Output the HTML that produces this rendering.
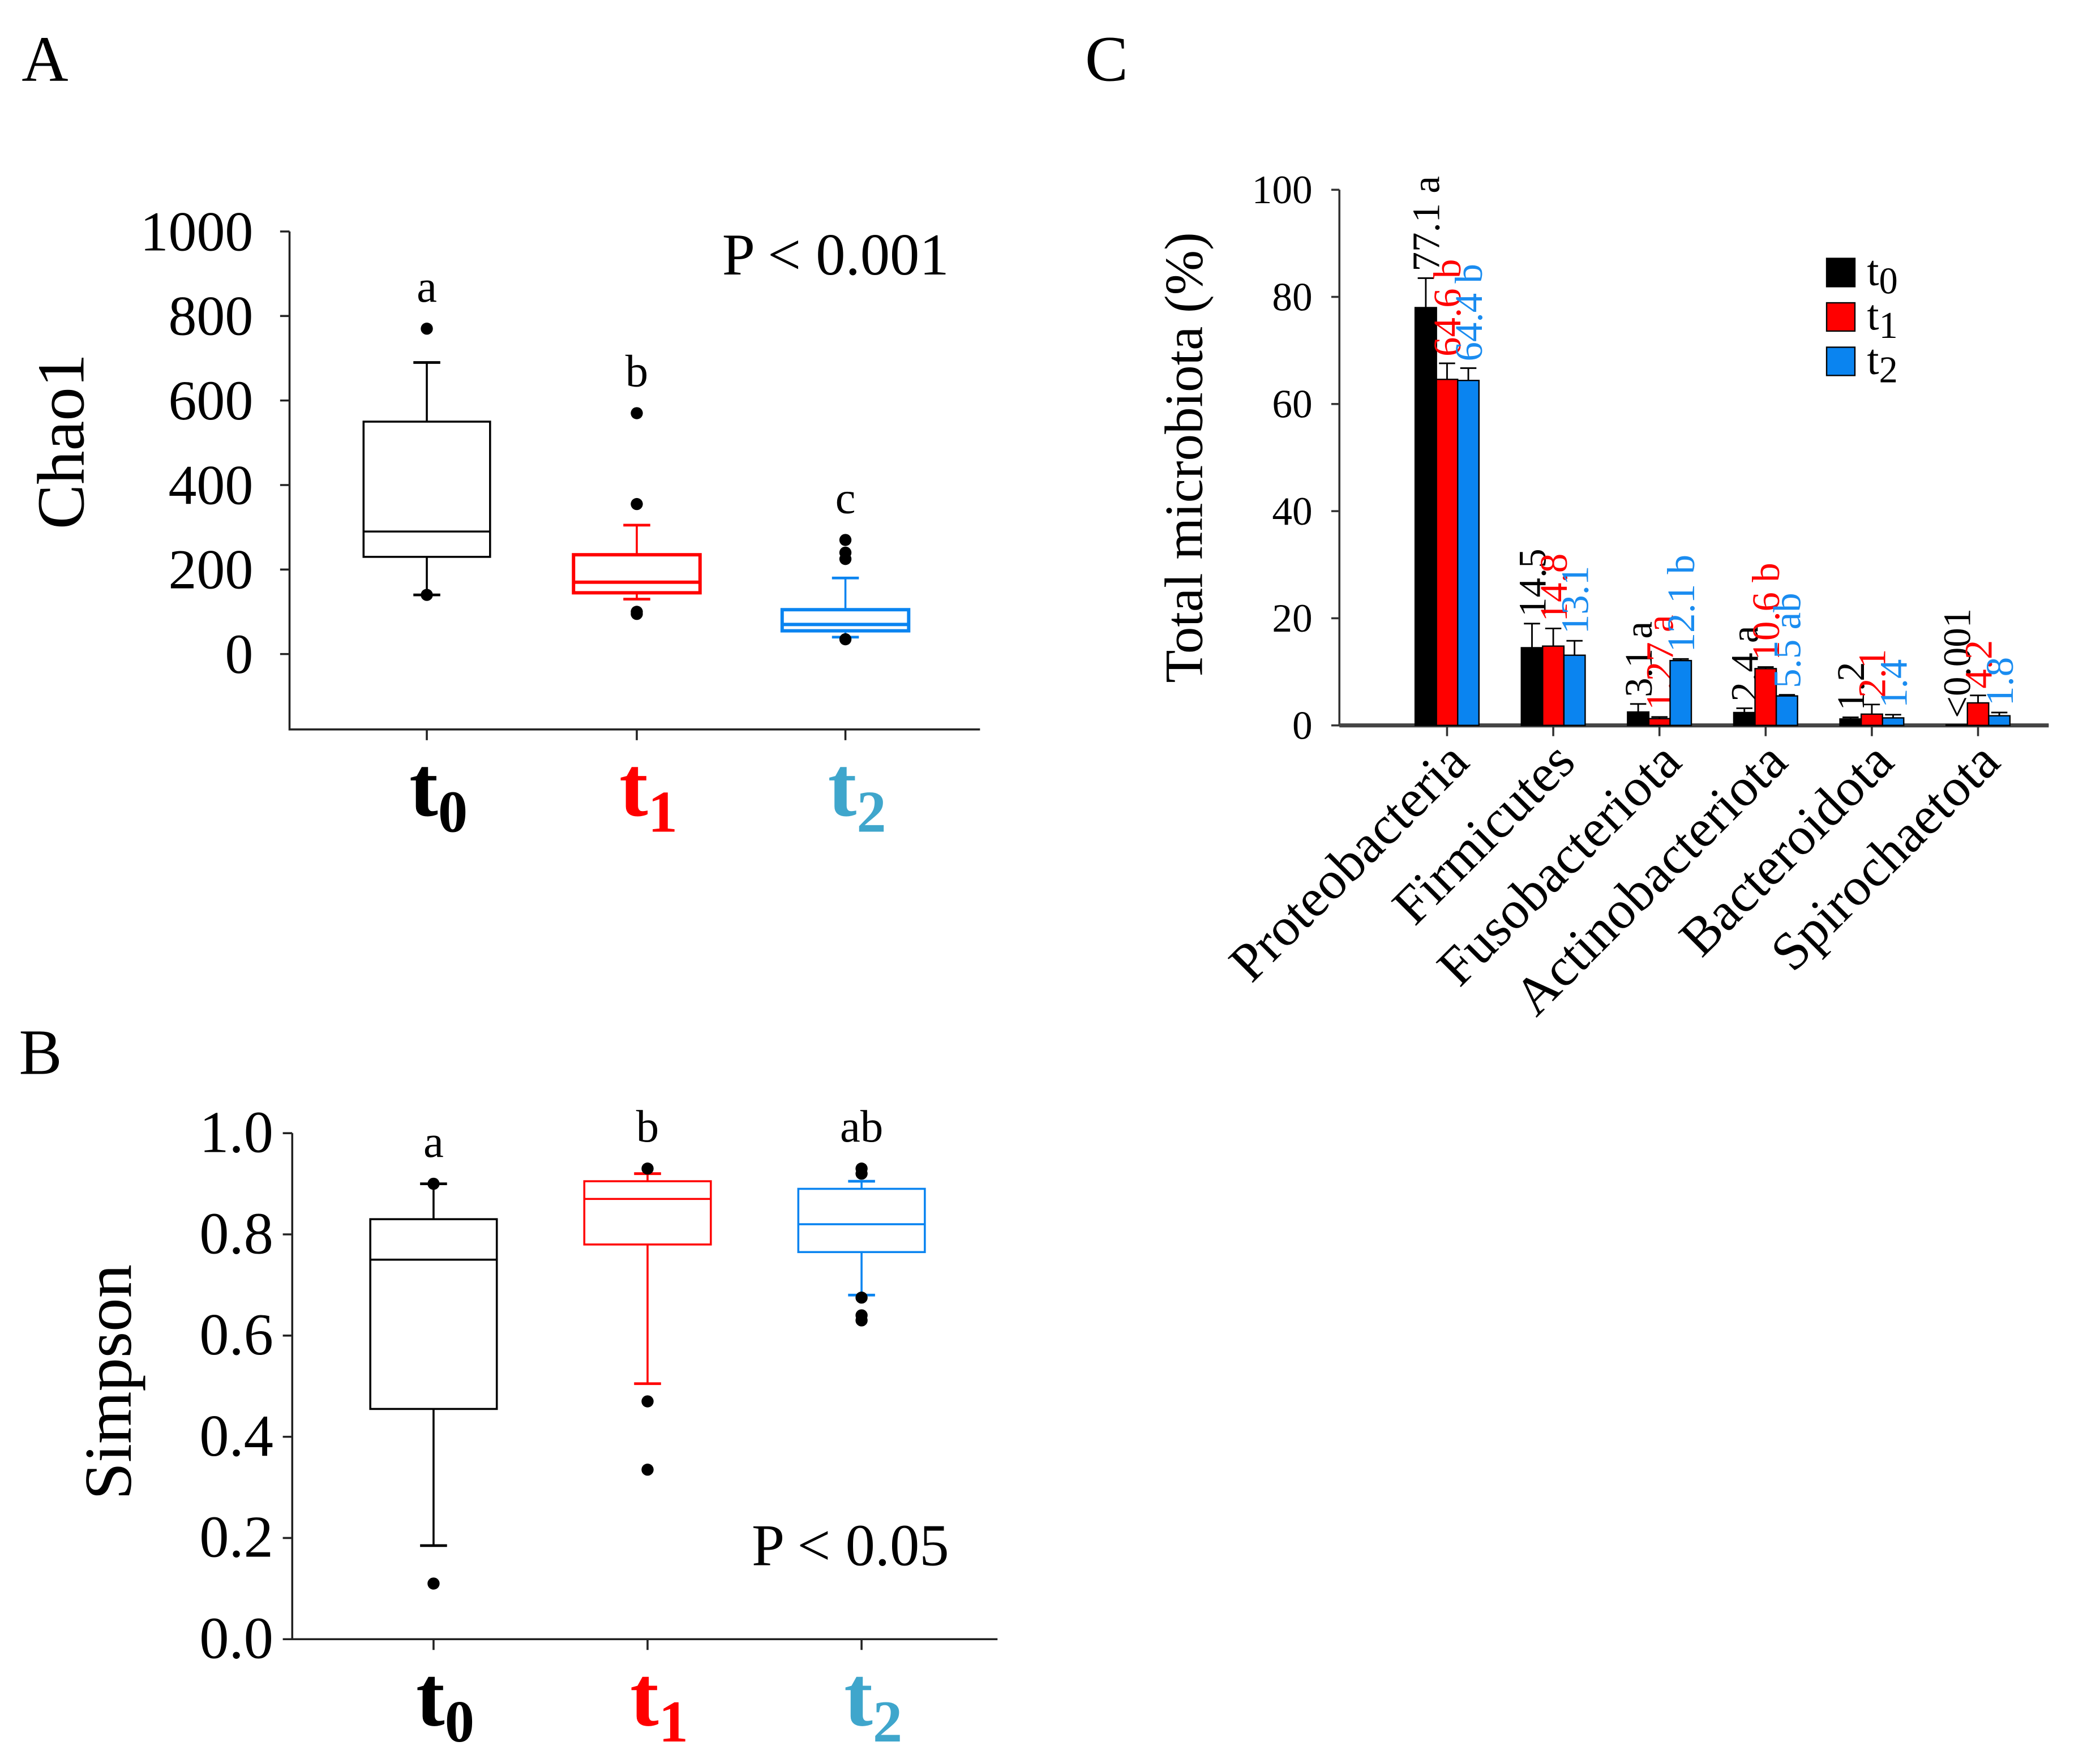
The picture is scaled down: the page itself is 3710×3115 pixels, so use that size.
<!DOCTYPE html>
<html><head><meta charset="utf-8"><style>
html,body{margin:0;padding:0;background:#fff}
svg{display:block}
text{font-family:"Liberation Serif",serif}
</style></head><body>
<svg id="fig" width="3710" height="3115" viewBox="0 0 1560 1310" xmlns="http://www.w3.org/2000/svg">
<text x="16" y="60" font-size="48">A</text>
<text x="14" y="798" font-size="48">B</text>
<text x="806" y="60" font-size="48">C</text>
<g id="pa"></g>
<g id="pb"></g>
<g id="pc"></g>
</svg>
<script>
// ---- Panel A data (Chao1)
const groups = ["t0","t1","t2"];
const chaoQ1 = [230,145,55];
const chaoMed = [290,170,70];
const chaoQ3 = [550,235,105];
const chaoLo = [140,130,40];
const chaoHi = [690,305,180];
const chaoOut = [[770,140],[570,355,100,95],[270,240,225,35]];
const chaoLetters = ["a","b","c"];
const chaoTicks = [0,200,400,600,800,1000];
// ---- Panel B data (Simpson)
const simQ1 = [0.455,0.78,0.765];
const simMed = [0.75,0.87,0.82];
const simQ3 = [0.83,0.905,0.89];
const simLo = [0.185,0.505,0.68];
const simHi = [0.90,0.92,0.905];
const simOut = [[0.11,0.9],[0.47,0.335,0.93],[0.93,0.92,0.675,0.64,0.63]];
const simLetters = ["a","b","ab"];
const simTicks = ["0.0","0.2","0.4","0.6","0.8","1.0"];
// ---- Panel C data
const phyla = ["Proteobacteria","Firmicutes","Fusobacteriota","Actinobacteriota","Bacteroidota","Spirochaetota"];
const valT0 = [78,14.5,2.5,2.4,1.2,0.1];
const valT1 = [64.6,14.8,1.27,10.6,2.1,4.2];
const valT2 = [64.4,13.1,12.1,5.5,1.4,1.8];
const errT0 = [5.5,4.5,1.5,0.8,0.3,0];
const errT1 = [3,3.3,0.3,0.3,1.8,1.4];
const errT2 = [2.3,2.7,0.3,0.2,0.6,0.6];
const lblT0 = ["77.1 a","14.5","3.1 a","2.4 a","1.2","<0.001"];
const lblT1 = ["64.6 b","14.8","1.27 a","10.6 b","2.1","4.2"];
const lblT2 = ["64.4 b","13.1","12.1 b","5.5 ab","1.4","1.8"];
const cTicks = [0,20,40,60,80,100];

const NS="http://www.w3.org/2000/svg";
function mk(parent,tag,attrs,txt){const e=document.createElementNS(NS,tag);for(const k in attrs)e.setAttribute(k,attrs[k]);if(txt!==undefined)e.textContent=txt;parent.appendChild(e);return e;}
const lineCol=["#000","#ff0000","#0a84f0"];
const labCol=["#000","#ff0000","#3fa6cc"];
const subs=["0","1","2"];

function boxPanel(g,cfg){
  const y=v=>cfg.y0+(v-cfg.v0)*(cfg.y1-cfg.y0)/(cfg.v1-cfg.v0);
  const ax=mk(g,'path',{d:`M${cfg.ax},${cfg.top}V${cfg.bot}H${cfg.right}`,stroke:'#222',fill:'none','stroke-width':1.5});
  
  
  cfg.ticks.forEach(t=>{
    const v=parseFloat(t);
    mk(g,'line',{x1:cfg.ax-7,x2:cfg.ax,y1:y(v),y2:y(v),stroke:'#222','stroke-width':1.5});
    const tx=mk(g,'text',{x:cfg.tlx,y:y(v)+14,'font-size':cfg.tfs,'text-anchor':'end'},t);
    
    
  });
  const yl=mk(g,'text',{x:0,y:0,'font-size':50,'text-anchor':'middle',transform:`translate(${cfg.ylx},${cfg.yly}) rotate(-90)`},cfg.ylabel);
  
  
  groups.forEach((gname,i)=>{
    const cx=cfg.cx[i],hw=47,c=lineCol[i],sw=cfg.sw[i];
    mk(g,'line',{x1:cx,x2:cx,y1:cfg.bot,y2:cfg.bot+8,stroke:'#222','stroke-width':1.5});
    const b=mk(g,'g',{});
    
    
    mk(b,'line',{x1:cx,x2:cx,y1:y(cfg.hi[i]),y2:y(cfg.q3[i]),stroke:c,'stroke-width':1.5});
    mk(b,'line',{x1:cx,x2:cx,y1:y(cfg.q1[i]),y2:y(cfg.lo[i]),stroke:c,'stroke-width':1.5});
    mk(b,'line',{x1:cx-10,x2:cx+10,y1:y(cfg.hi[i]),y2:y(cfg.hi[i]),stroke:c,'stroke-width':2});
    mk(b,'line',{x1:cx-10,x2:cx+10,y1:y(cfg.lo[i]),y2:y(cfg.lo[i]),stroke:c,'stroke-width':2});
    mk(b,'rect',{x:cx-hw,y:y(cfg.q3[i]),width:hw*2,height:y(cfg.q1[i])-y(cfg.q3[i]),fill:'none',stroke:c,'stroke-width':sw});
    mk(b,'line',{x1:cx-hw,x2:cx+hw,y1:y(cfg.med[i]),y2:y(cfg.med[i]),stroke:c,'stroke-width':sw});
    cfg.out[i].forEach(v=>{
      const d=mk(b,'circle',{cx:cx,cy:y(v),r:4.5,fill:'#000'});
      
      
    });
    const top=Math.max(cfg.hi[i],...cfg.out[i]);
    const lt=mk(g,'text',{x:cx,y:y(top)-cfg.lgap,'font-size':34,'text-anchor':'middle'},cfg.letters[i]);
    
    
    const xl=mk(g,'text',{x:cx-13,y:cfg.xly,'font-size':64,'font-weight':'bold',fill:labCol[i]});
    
    
    mk(xl,'tspan',{},'t');
    mk(xl,'tspan',{'font-size':44,dy:12},subs[i]);
  });
  const p=mk(g,'text',{x:cfg.px,y:cfg.py,'font-size':44,'text-anchor':'end'},cfg.ptxt);
  
  
}
boxPanel(document.getElementById('pa'),{v0:0,v1:1000,y0:486,y1:172,top:172,bot:542,ax:215,right:728,tlx:188,tfs:42,
  cx:[317,473,628],q1:chaoQ1,med:chaoMed,q3:chaoQ3,lo:chaoLo,hi:chaoHi,out:chaoOut,letters:chaoLetters,
  ticks:chaoTicks.map(String),ylabel:"Chao1",ylx:62,yly:328,xly:606,px:705,py:204,ptxt:"P < 0.001",lgap:20,sw:[1.5,2.5,2.5]});
boxPanel(document.getElementById('pb'),{v0:0,v1:1,y0:1218,y1:842,top:842,bot:1218,ax:217,right:741,tlx:203,tfs:44,
  cx:[322,481,640],q1:simQ1,med:simMed,q3:simQ3,lo:simLo,hi:simHi,out:simOut,letters:simLetters,
  ticks:simTicks,ylabel:"Simpson",ylx:97,yly:1027,xly:1282,px:705,py:1163,ptxt:"P < 0.05",lgap:20,sw:[1.5,1.5,1.5]});

// ---- Panel C
(function(){
  const g=document.getElementById('pc');
  const ax=995,top=141,bot=539,right=1522;
  const y=v=>bot+(v-0)*(top-bot)/100;
  const gx=i=>1075+i*78.9;
  const bw=15.8;
  const vals=[valT0,valT1,valT2],errs=[errT0,errT1,errT2],lbls=[lblT0,lblT1,lblT2];
  const fills=["#000","#ff0000","#0a84f0"];
  const a=mk(g,'path',{d:`M${ax},${top}V${bot}H${right}`,stroke:'#333',fill:'none','stroke-width':1.5});
  
  
  mk(g,'line',{x1:ax,x2:right,y1:bot,y2:bot,stroke:'#444','stroke-width':3});
  cTicks.forEach(t=>{
    mk(g,'line',{x1:ax-6,x2:ax,y1:y(t),y2:y(t),stroke:'#333','stroke-width':1.5});
    const tx=mk(g,'text',{x:ax-20,y:y(t)+10,'font-size':30,'text-anchor':'end'},String(t));
    
    
  });
  const yl=mk(g,'text',{x:0,y:0,'font-size':40,'text-anchor':'middle',transform:'translate(893,340) rotate(-90)'},'Total microbiota (%)');
  
  
  phyla.forEach((ph,i)=>{
    const cx=gx(i);
    mk(g,'line',{x1:cx,x2:cx,y1:bot,y2:bot+8,stroke:'#333','stroke-width':1.5});
    const cl=mk(g,'text',{x:0,y:0,'font-size':40,'text-anchor':'end',transform:`translate(${cx+18},${568}) rotate(-45)`},ph);
    
    
    for(let s=0;s<3;s++){
      const bx=cx-bw*1.5+s*bw,v=vals[s][i],e=errs[s][i];
      const r=mk(g,'rect',{x:bx,y:y(v),width:bw,height:bot-y(v),fill:fills[s],stroke:'#000','stroke-width':1});
      
      
      const et=y(v+e);
      if(e>0){
        mk(g,'line',{x1:bx+bw/2,x2:bx+bw/2,y1:y(v),y2:et,stroke:'#000','stroke-width':1.2});
        mk(g,'line',{x1:bx+bw/2-6,x2:bx+bw/2+6,y1:et,y2:et,stroke:'#000','stroke-width':1.2});
      }
      const lt=mk(g,'text',{x:0,y:0,'font-size':29,fill:fills[s]==="#0a84f0"?"#1a8cf0":fills[s],transform:`translate(${bx+bw/2+10},${et-5}) rotate(-90)`},lbls[s][i]);
      
      
    }
  });
  const lg=mk(g,'g',{});
  
  
  for(let s=0;s<3;s++){
    const yy=192+s*33;
    mk(lg,'rect',{x:1357,y:yy,width:21,height:21,fill:fills[s],stroke:'#000','stroke-width':1});
    const t=mk(lg,'text',{x:1387,y:yy+20,'font-size':32});
    
    
    mk(t,'tspan',{},'t');
    mk(t,'tspan',{'font-size':28,dy:6},subs[s]);
  }
})();
</script>
</body></html>
